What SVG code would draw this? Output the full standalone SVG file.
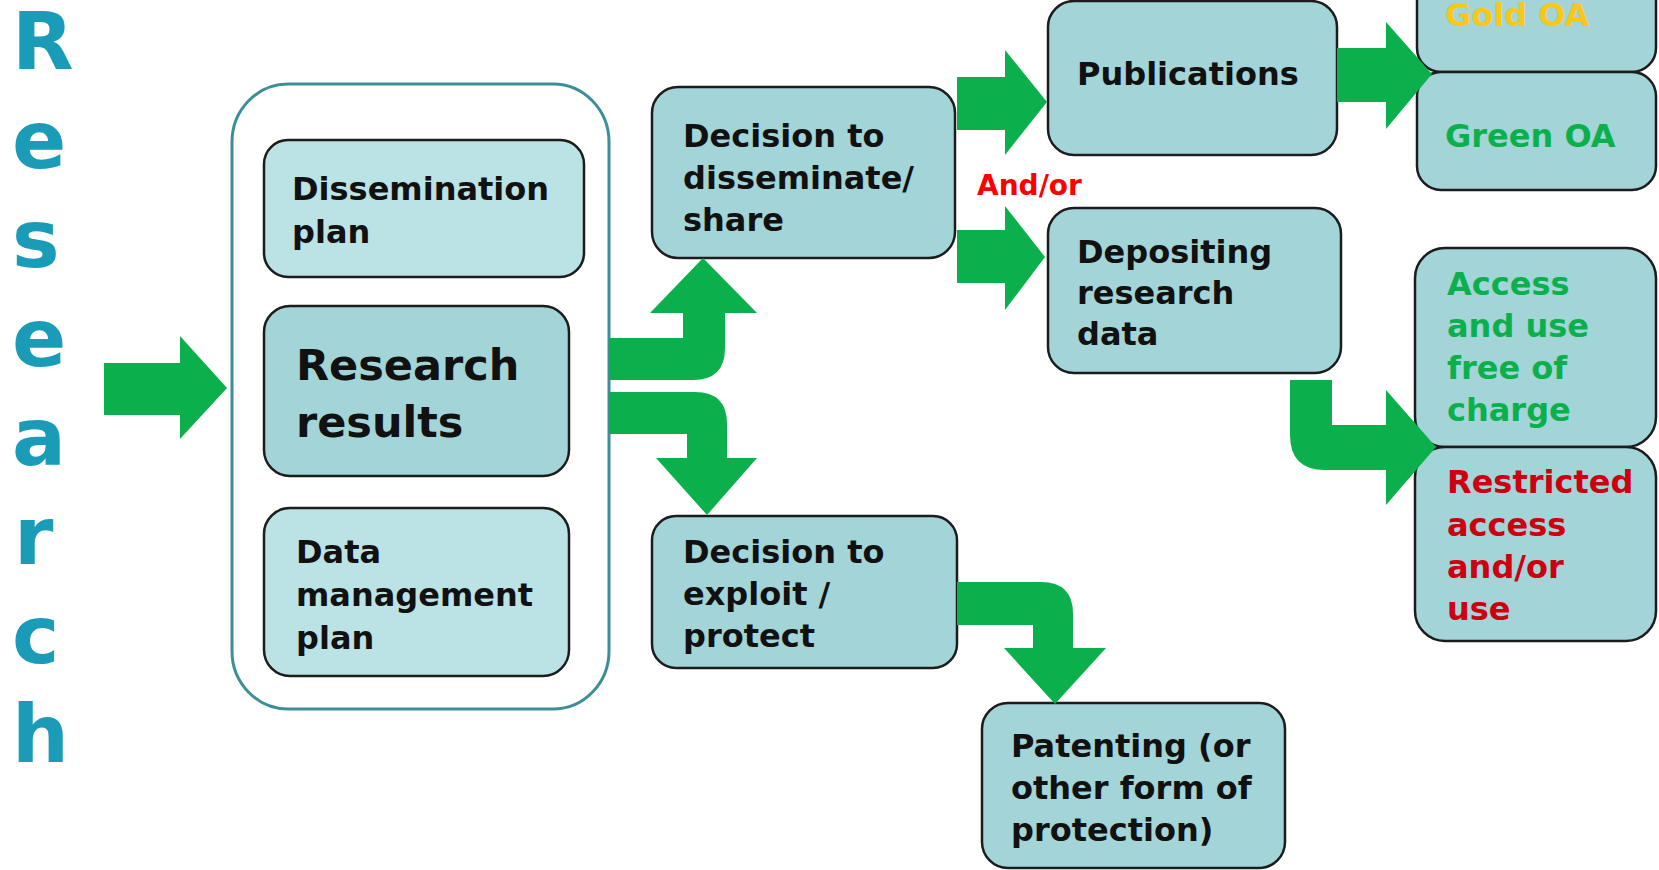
<svg xmlns="http://www.w3.org/2000/svg" width="1659" height="870" viewBox="0 0 1659 870">
<style>
.box{fill:#a2d4d8;stroke:#1c1c1c;stroke-width:2.5}
.light{fill:#bbe2e5;stroke:#1c1c1c;stroke-width:2.5}
.t{font-family:"DejaVu Sans",Verdana,sans-serif;font-weight:bold;font-size:32px;fill:#111}
.big{font-size:43px}
.v{font-family:"DejaVu Sans",Verdana,sans-serif;font-weight:bold;font-size:80px;fill:#1a9cb8}
.arr{fill:#0bb04c}
</style>
<rect width="1659" height="870" fill="#fff"/>
<g id="title">
<text class="v" x="12" y="69">R</text>
<text class="v" x="12" y="168">e</text>
<text class="v" x="12" y="267">s</text>
<text class="v" x="12" y="366">e</text>
<text class="v" x="12" y="465">a</text>
<text class="v" x="14" y="564">r</text>
<text class="v" x="12" y="663">c</text>
<text class="v" x="12" y="762">h</text>
</g>
<g id="container">
<rect x="232" y="84" width="377" height="625" rx="56" ry="58" fill="#fff" stroke="#3c8e98" stroke-width="3"/>
</g>
<g id="dissemination-plan">
<rect class="light" x="264" y="140" width="320" height="137" rx="24"/>
<text class="t" x="292" y="200">Dissemination</text>
<text class="t" x="292" y="243">plan</text>
</g>
<g id="research-results">
<rect class="box" x="264" y="306" width="305" height="170" rx="26"/>
<text class="t big" x="296" y="380">Research</text>
<text class="t big" x="296" y="437">results</text>
</g>
<g id="data-management-plan">
<rect class="light" x="264" y="508" width="305" height="168" rx="26"/>
<text class="t" x="296" y="563">Data</text>
<text class="t" x="296" y="606">management</text>
<text class="t" x="296" y="649">plan</text>
</g>
<g id="decision-disseminate">
<rect class="box" x="652" y="87" width="303" height="171" rx="26"/>
<text class="t" x="683" y="147">Decision to</text>
<text class="t" x="683" y="189">disseminate/</text>
<text class="t" x="683" y="231">share</text>
</g>
<g id="decision-exploit">
<rect class="box" x="652" y="516" width="305" height="152" rx="24"/>
<text class="t" x="683" y="563">Decision to</text>
<text class="t" x="683" y="605">exploit /</text>
<text class="t" x="683" y="647">protect</text>
</g>
<g id="patenting">
<rect class="box" x="982" y="703" width="303" height="165" rx="26"/>
<text class="t" x="1011" y="757">Patenting (or</text>
<text class="t" x="1011" y="799">other form of</text>
<text class="t" x="1011" y="841">protection)</text>
</g>
<g id="publications">
<rect class="box" x="1048" y="1" width="289" height="154" rx="26"/>
<text class="t" x="1077" y="85">Publications</text>
</g>
<g id="depositing">
<rect class="box" x="1048" y="208" width="293" height="165" rx="26"/>
<text class="t" x="1077" y="263">Depositing</text>
<text class="t" x="1077" y="304">research</text>
<text class="t" x="1077" y="345">data</text>
</g>
<g id="gold-oa">
<rect class="box" x="1417" y="-40" width="239" height="112" rx="24"/>
<text class="t" x="1445" y="26" style="fill:#f7c81c">Gold OA</text>
</g>
<g id="green-oa">
<rect class="box" x="1417" y="72" width="239" height="118" rx="24"/>
<text class="t" x="1445" y="147" style="fill:#0bb04c">Green OA</text>
</g>
<g id="access-free">
<rect class="box" x="1415" y="248" width="241" height="199" rx="30"/>
<g class="t" style="fill:#0bb04c">
<text x="1447" y="295">Access</text>
<text x="1447" y="337">and use</text>
<text x="1447" y="379">free of</text>
<text x="1447" y="421">charge</text>
</g>
</g>
<g id="restricted">
<rect class="box" x="1415" y="447" width="241" height="194" rx="30"/>
<g class="t" style="fill:#cc0010">
<text x="1447" y="493">Restricted</text>
<text x="1447" y="536">access</text>
<text x="1447" y="578">and/or</text>
<text x="1447" y="620">use</text>
</g>
</g>
<g id="connectors">
<path class="arr" d="M104 363 L180 363 L180 336 L227 388 L180 439 L180 415 L104 415 Z"/>
<path class="arr" d="M609 338 L683 338 L683 313 L650 313 L703 258 L757 313 L725 313 L725 348 Q725 380 693 380 L609 380 Z"/>
<path class="arr" d="M609 392 L695 392 Q727 392 727 424 L727 458 L757 458 L707 515 L656 458 L687 458 L687 434 L609 434 Z"/>
<path class="arr" d="M957 582 L1041 582 Q1073 582 1073 614 L1073 648 L1106 648 L1055 704 L1004 648 L1033 648 L1033 625 L957 625 Z"/>
<path class="arr" d="M957 77 L1005 77 L1005 50 L1047 102 L1005 155 L1005 130 L957 130 Z"/>
<path class="arr" d="M957 230 L1005 230 L1005 206 L1045 257 L1005 310 L1005 283 L957 283 Z"/>
<path class="arr" d="M1337 48 L1386 48 L1386 22 L1432 74 L1386 129 L1386 102 L1337 102 Z"/>
<path class="arr" d="M1290 380 L1332 380 L1332 425 L1386 425 L1386 390 L1436 447 L1386 505 L1386 470 L1325 470 Q1290 470 1290 435 Z"/>
<text x="977" y="195" style="font-family:'DejaVu Sans',Verdana,sans-serif;font-weight:bold;font-size:28px;fill:#ff0000">And/or</text>
</g>
</svg>
